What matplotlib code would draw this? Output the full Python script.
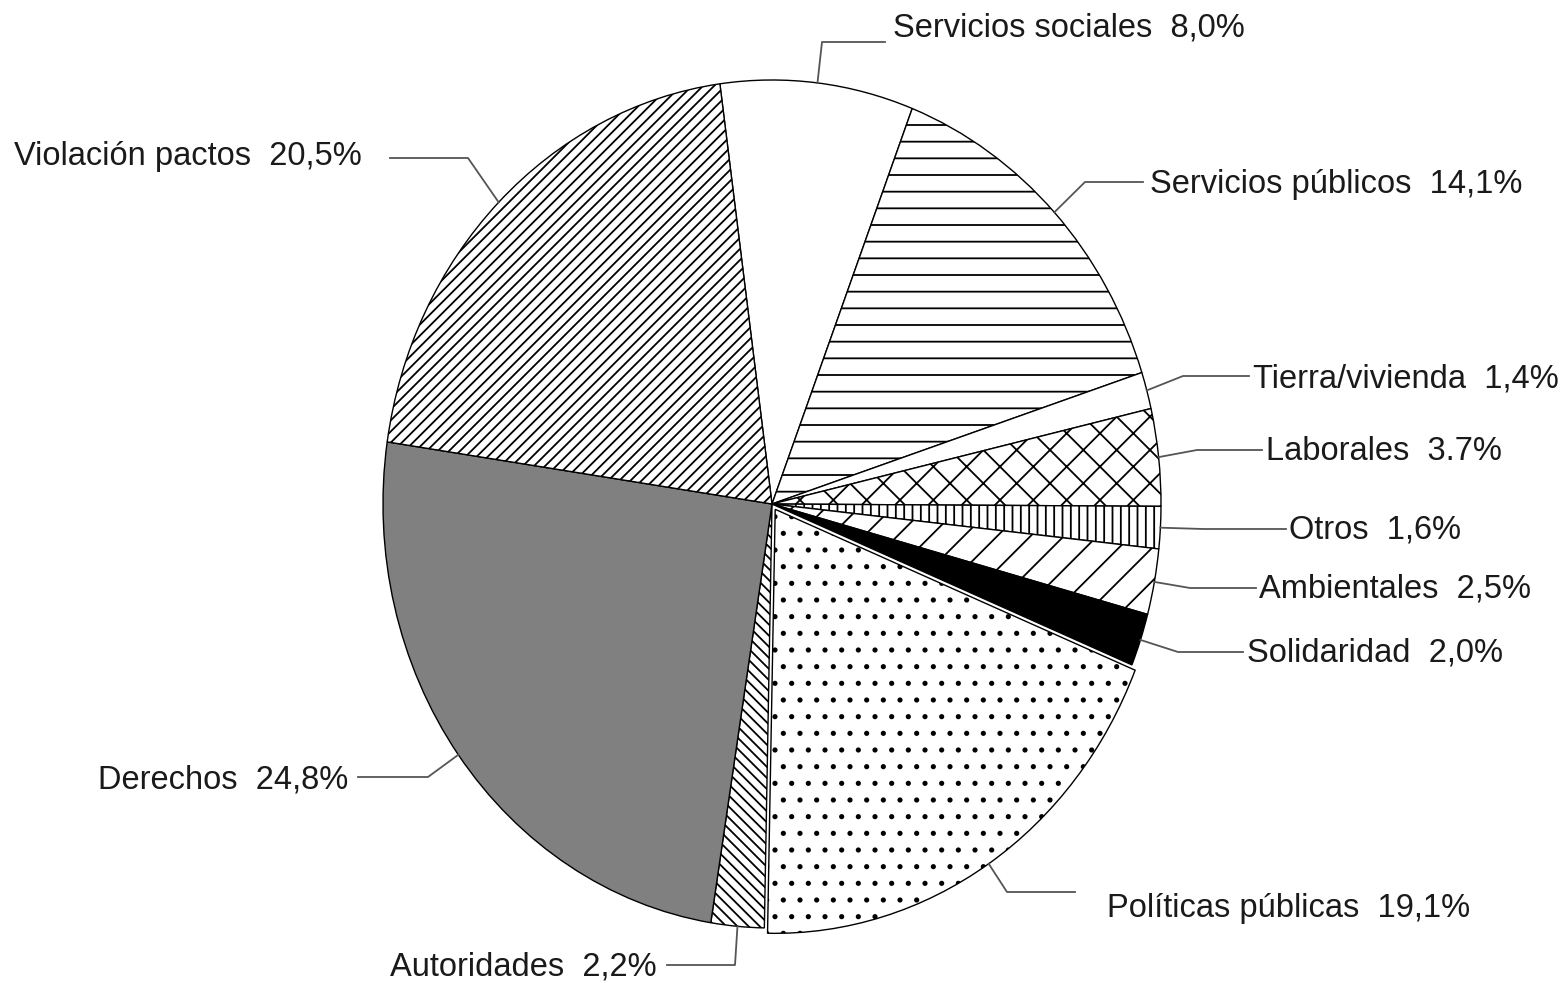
import matplotlib.pyplot as plt
import numpy as np

# Datos del gráfico (orden horario desde arriba)
categorias = ['Servicios sociales', 'Servicios públicos', 'Tierra/vivienda', 'Laborales',
              'Otros', 'Ambientales', 'Solidaridad', 'Políticas públicas', 'Autoridades',
              'Derechos', 'Violación pactos']
porcentajes = [8.0, 14.1, 1.4, 3.7, 1.6, 2.5, 2.0, 19.1, 2.2, 24.8, 20.5]
textos_valor = ['8,0%', '14,1%', '1,4%', '3.7%', '1,6%', '2,5%', '2,0%', '19,1%', '2,2%',
                '24,8%', '20,5%']

# Estilo de cada sector
colores = ['white', 'white', 'white', 'white', 'white', 'white', 'black', 'white', 'white',
           '#808080', 'white']
tramas = ['', '-', '', 'x', '||', '/', '', '.', '\\\\\\', '', '///']
separacion = [0, 0, 0, 0, 0, 0, 0, 0.015, 0, 0, 0]

# Posición de las etiquetas en píxeles: codo de la línea, fin de la línea, texto
codos = [(822, 42), (1085, 182), (1183, 376), (1197, 450), (1203, 529), (1190, 588),
         (1178, 652), (1007, 892), (735, 965), (428, 777), (468, 158)]
fin_linea = [885, 1143, 1249, 1262, 1286, 1256, 1243, 1075, 667, 358, 390]
pos_texto = [(893, 28), (1150, 184), (1253, 379), (1266, 452), (1289, 530), (1259, 589),
             (1247, 653), (1107, 908), (657, 967), (348, 780), (362, 156)]
alineacion = ['left'] * 8 + ['right'] * 3

W, H = 1565, 983
plt.rcParams['hatch.linewidth'] = 1.3
plt.rcParams['font.family'] = ['Liberation Sans', 'DejaVu Sans']

fig = plt.figure(figsize=(W / 100, H / 100), dpi=100)

# Ejes del pastel (elipse: centro 772,504 y radios 389 x 424 px)
cx, cy, rx, ry = 772, 504, 389, 424
lim = 1.1
ax = fig.add_axes([(cx - lim * rx) / W, (H - cy - lim * ry) / H,
                   2 * lim * rx / W, 2 * lim * ry / H])
wedges, _ = ax.pie(porcentajes, colors=colores, hatch=tramas, explode=separacion,
                   startangle=97.7, counterclock=False,
                   wedgeprops=dict(edgecolor='black', linewidth=1.0))
ax.set_aspect('auto')
ax.set_xlim(-lim, lim)
ax.set_ylim(-lim, lim)
ax.axis('off')

# Ejes superpuestos en coordenadas de píxel para las etiquetas
ov = fig.add_axes([0, 0, 1, 1])
ov.set_xlim(0, W)
ov.set_ylim(H, 0)
ov.axis('off')

for i, w in enumerate(wedges):
    ang = np.deg2rad((w.theta1 + w.theta2) / 2)
    borde = (w.center[0] + w.r * np.cos(ang), w.center[1] + w.r * np.sin(ang))
    px, py = ov.transData.inverted().transform(ax.transData.transform(borde))
    ex, ey = codos[i]
    ov.plot([px, ex, fin_linea[i]], [py, ey, ey], color='#555555', lw=1.3)
    tx, ty = pos_texto[i]
    ov.text(tx, ty, categorias[i] + '  ' + textos_valor[i], ha=alineacion[i], va='center',
            fontsize=23.5, color='#1a1a1a')

fig.savefig('out.png', dpi=100, facecolor='white')
